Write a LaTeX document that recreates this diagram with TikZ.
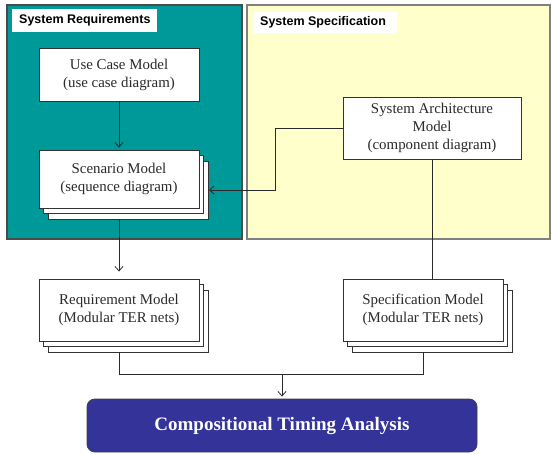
\documentclass[tikz,border=0pt]{standalone}
\usepackage{fontspec}
\setmainfont{Liberation Serif}
\newfontfamily\headfont{Liberation Sans}
\usetikzlibrary{arrows.meta}

\definecolor{reqteal}{HTML}{009999}
\definecolor{speccream}{HTML}{FFFFCC}
\definecolor{analysisblue}{HTML}{333399}
\definecolor{inkgray}{HTML}{2A2A2A}
\definecolor{panelborder}{HTML}{4A4A4A}

\tikzset{
  panel/.style={draw=panelborder, line width=1.2pt},
  titlebox/.style={fill=white, inner sep=0pt, anchor=north west},
  titletext/.style={inner sep=0pt, anchor=west,
    font=\headfont\bfseries\fontsize{12.5}{14}\selectfont, text=black},
  modelbox/.style={draw=black!80, fill=white, line width=0.9pt, inner sep=0pt,
    align=center, text=inkgray, font=\fontsize{14.9}{18}\selectfont},
  flow/.style={draw=inkgray, line width=0.8pt},
  arr/.style={flow, -{Straight Barb[length=4.5pt,width=8pt,line width=0.8pt]}},
}

\begin{document}
\begin{tikzpicture}[x=1pt, y=-1pt]
\useasboundingbox (0,0) rectangle (551,453);

% the two background panels
\filldraw[panel, fill=reqteal] (7,5) rectangle (242,239);
\filldraw[panel, draw=panelborder!70, fill=speccream] (247,5) rectangle (550,239);

% panel titles
\node[titlebox, minimum width=145pt, minimum height=23pt] (reqtitle) at (12,9) {};
\node[titletext] (reqtitletext) at ([xshift=7pt]reqtitle.west) {System Requirements};
\node[titlebox, minimum width=144pt, minimum height=21pt] (spectitle) at (253,12) {};
\node[titletext] (spectitletext) at ([xshift=7pt]spectitle.west) {System Specification};

% use case model
\node[modelbox, minimum width=160pt, minimum height=53pt] (usecase) at (119,74.5)
  {Use Case Model\\(use case diagram)};

% scenario model, stacked
\node[modelbox, minimum width=160pt, minimum height=58pt] (scen3) at (128.5,190) {};
\node[modelbox, minimum width=160pt, minimum height=58pt] (scen2) at (123.5,184.5) {};
\node[modelbox, minimum width=160pt, minimum height=58pt] (scen) at (119,179)
  {Scenario Model\\(sequence diagram)};

% system architecture model
\node[modelbox, minimum width=178pt, minimum height=62pt] (arch) at (432,128)
  {System Architecture\\Model\\(component diagram)};

% requirement model, stacked
\node[modelbox, minimum width=160pt, minimum height=62pt] (req3) at (128.5,321) {};
\node[modelbox, minimum width=160pt, minimum height=62pt] (req2) at (123.5,315.5) {};
\node[modelbox, minimum width=160pt, minimum height=62pt] (req) at (119,310)
  {Requirement Model\\(Modular TER nets)};

% specification model, stacked
\node[modelbox, minimum width=160pt, minimum height=62pt] (spec3) at (432.5,321) {};
\node[modelbox, minimum width=160pt, minimum height=62pt] (spec2) at (427.5,315.5) {};
\node[modelbox, minimum width=160pt, minimum height=62pt] (spec) at (423,310)
  {Specification Model\\(Modular TER nets)};

% compositional timing analysis
\node[draw=black!75, line width=0.9pt, fill=analysisblue, rounded corners=8pt,
  minimum width=390pt, minimum height=53pt, inner sep=0pt, text=white,
  font=\bfseries\fontsize{19}{22}\selectfont] (cta) at (282,425.5)
  {Compositional Timing Analysis};

% connectors
\coordinate (archbend) at (275,128);
\coordinate (join) at (282,374.6);

\draw[arr, shorten >=2pt] (usecase.south) -- (scen.north);
\draw[arr] (arch.west) -- (archbend) |- (scen3.east);
\draw[arr, shorten >=7pt] (scen.south |- scen3.south) -- (req.north);
\draw[flow] (arch.south) -- (arch.south |- spec.north);
\draw[flow] (req.south |- req3.south) |- (join);
\draw[flow] (spec.south |- spec3.south) |- (join);
\draw[arr, shorten >=2pt] (join) -- (cta.north);
\end{tikzpicture}
\end{document}
